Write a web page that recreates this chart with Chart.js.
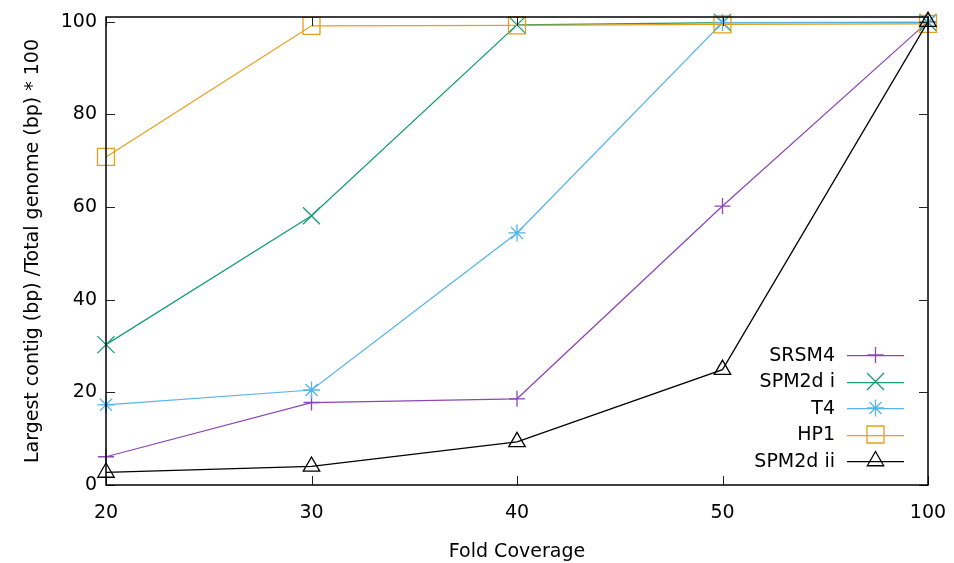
<!DOCTYPE html>
<html lang="en">
<head>
    <meta charset="UTF-8">
    <title>Largest contig vs fold coverage</title>
    <script src="https://cdn.jsdelivr.net/npm/chart.js"></script>
    <style>
        html, body { margin: 0; padding: 0; background: #fff; }
        #wrap { width: 954px; height: 563px; }
    </style>
</head>
<body>
    <div id="wrap"><canvas id="coverageChart"></canvas></div>

    <script>
        // data
        const foldCoverage = ['20', '30', '40', '50', '100'];
        const yTicks = [0, 20, 40, 60, 80, 100];

        const srsm4 = [6.1, 17.8, 18.6, 60.2, 100];
        const spm2dI = [30.3, 58.1, 99.3, 99.8, 99.8];
        const t4 = [17.3, 20.5, 54.4, 99.8, 99.9];
        const hp1 = [70.8, 99.1, 99.2, 99.4, 99.5];
        const spm2dII = [2.7, 4.0, 9.3, 24.9, 100];

        const FONT = 'DejaVu Sans';
        const FSIZE = 19;
        const ctx = document.getElementById('coverageChart').getContext('2d');

        function series(label, data, color, pointStyle, radius, order) {
            return {
                label: label,
                data: data,
                borderColor: color,
                backgroundColor: 'transparent',
                borderWidth: 1.25,
                pointStyle: pointStyle,
                pointRadius: radius,
                pointBorderWidth: 1.3,
                pointBorderColor: color,
                pointBackgroundColor: 'transparent',
                tension: 0,
                clip: false,
                order: order
            };
        }

        // gnuplot style frame: box with inward ticks on every side
        const framePlugin = {
            id: 'frame',
            afterDraw(chart) {
                const c = chart.ctx;
                const a = chart.chartArea;
                const xs = chart.scales.x;
                const ys = chart.scales.y;
                const len = 9;
                c.save();
                c.strokeStyle = '#222';
                c.lineWidth = 1;
                ys.ticks.forEach((t, i) => {
                    const y = Math.round(ys.getPixelForTick(i)) + 0.5;
                    c.beginPath();
                    c.moveTo(a.left, y); c.lineTo(a.left + len, y);
                    c.moveTo(a.right, y); c.lineTo(a.right - len, y);
                    c.stroke();
                });
                xs.ticks.forEach((t, i) => {
                    const x = Math.round(xs.getPixelForTick(i)) + 0.5;
                    c.beginPath();
                    c.moveTo(x, a.bottom); c.lineTo(x, a.bottom - len);
                    c.moveTo(x, a.top); c.lineTo(x, a.top + len);
                    c.stroke();
                });
                c.strokeStyle = '#000';
                c.lineWidth = 1.5;
                c.strokeRect(a.left, a.top, a.right - a.left, a.bottom - a.top);
                c.restore();
            }
        };

        // key in the lower right corner: label, then line sample with marker
        const keyPlugin = {
            id: 'key',
            afterDraw(chart) {
                const c = chart.ctx;
                const a = chart.chartArea;
                const sets = chart.data.datasets;
                const textRight = a.right - 93;
                const lineL = a.right - 81;
                const lineR = a.right - 24;
                const rowH = 26.5;
                const firstY = a.bottom - 24 - rowH * (sets.length - 1);
                c.save();
                c.font = FSIZE + 'px "' + FONT + '"';
                c.textAlign = 'right';
                c.textBaseline = 'middle';
                sets.forEach((ds, i) => {
                    const y = firstY + i * rowH;
                    c.fillStyle = '#000';
                    c.fillText(ds.label, textRight, y + 1);
                    c.strokeStyle = ds.borderColor;
                    c.lineWidth = 1.25;
                    c.beginPath();
                    c.moveTo(lineL, Math.round(y) + 0.5);
                    c.lineTo(lineR, Math.round(y) + 0.5);
                    c.stroke();
                    c.lineWidth = ds.pointBorderWidth;
                    c.fillStyle = 'rgba(0,0,0,0)';
                    Chart.helpers.drawPoint(c, {
                        pointStyle: ds.pointStyle,
                        radius: ds.pointRadius,
                        rotation: 0,
                        borderWidth: ds.pointBorderWidth
                    }, (lineL + lineR) / 2, y);
                });
                c.restore();
            }
        };

        const chart = new Chart(ctx, {
            type: 'line',
            data: {
                labels: foldCoverage,
                datasets: [
                    series('SRSM4', srsm4, '#8e46b4', 'cross', 8, 4),
                    series('SPM2d i', spm2dI, '#139e74', 'crossRot', 12, 3),
                    series('T4', t4, '#56b4e9', 'star', 8.5, 2),
                    series('HP1', hp1, '#e69f1a', 'rect', 12, 1),
                    series('SPM2d ii', spm2dII, '#000000', 'triangle', 9.5, 0)
                ]
            },
            options: {
                responsive: true,
                maintainAspectRatio: false,
                animation: false,
                layout: { padding: { top: 17, right: 26, left: 0, bottom: 0 } },
                plugins: {
                    legend: { display: false },
                    tooltip: { enabled: false }
                },
                scales: {
                    x: {
                        type: 'category',
                        offset: false,
                        grid: { display: false, drawTicks: false },
                        border: { display: false },
                        ticks: { color: '#000', padding: 17, font: { family: FONT, size: FSIZE } },
                        title: {
                            display: true,
                            text: 'Fold Coverage',
                            color: '#000',
                            font: { family: FONT, size: FSIZE },
                            padding: { top: 12, bottom: 0 }
                        },
                        afterFit(scale) {
                            scale.height = 78;
                            scale.paddingLeft = 0;
                            scale.paddingRight = 0;
                        }
                    },
                    y: {
                        min: 0,
                        max: 101,
                        grid: { display: false, drawTicks: false },
                        border: { display: false },
                        afterBuildTicks(scale) { scale.ticks = yTicks.map(v => ({ value: v })); },
                        ticks: { color: '#000', padding: 9, font: { family: FONT, size: FSIZE } },
                        title: {
                            display: true,
                            text: 'Largest contig (bp) /Total genome (bp) * 100',
                            color: '#000',
                            font: { family: FONT, size: FSIZE },
                            padding: { top: 22, bottom: 0 }
                        },
                        afterFit(scale) {
                            scale.width = 106;
                            scale.paddingTop = 0;
                            scale.paddingBottom = 0;
                        }
                    }
                }
            },
            plugins: [framePlugin, keyPlugin]
        });
    </script>
</body>
</html>
